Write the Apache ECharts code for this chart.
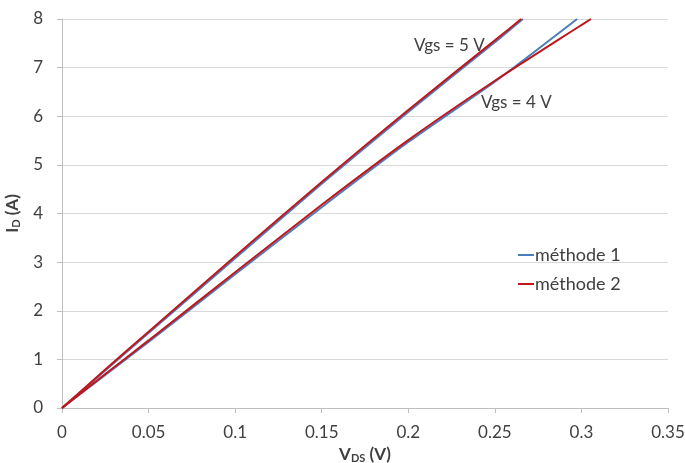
<!DOCTYPE html>
<html><head><meta charset="utf-8">
<script src="https://cdn.jsdelivr.net/npm/echarts@6/dist/echarts.min.js"></script>
<style>html,body{margin:0;padding:0;background:#fff}#c{width:685px;height:463px}</style>
</head><body><div id="c"></div>
<script>
// V_DS (V) sample points and I_D (A) values
const vds5m1 = [0, 0.025, 0.05, 0.1, 0.15, 0.2, 0.25, 0.2662];
const id5m1  = [0, 0.77, 1.54, 3.08, 4.61, 6.09, 7.52, 8];
const vds5m2 = [0, 0.025, 0.05, 0.1, 0.15, 0.2, 0.25, 0.2652];
const id5m2  = [0, 0.79, 1.57, 3.12, 4.65, 6.13, 7.56, 8];
const vds4m1 = [0, 0.025, 0.05, 0.1, 0.15, 0.2, 0.25, 0.2975];
const id4m1  = [0, 0.68, 1.36, 2.75, 4.13, 5.47, 6.71, 8];
const vds4m2 = [0, 0.025, 0.05, 0.1, 0.15, 0.2, 0.25, 0.2975, 0.3055];
const id4m2  = [0, 0.70, 1.39, 2.79, 4.18, 5.51, 6.73, 7.82, 8];
const seriesNames = ['méthode 1', 'méthode 2'];
const xTicks = [0, 0.05, 0.1, 0.15, 0.2, 0.25, 0.3, 0.35];
const yTicks = [0, 1, 2, 3, 4, 5, 6, 7, 8];
const annotations = ['Vgs = 5 V', 'Vgs = 4 V'];

const zip = (a, b) => a.map((v, i) => [v, b[i]]);
const BLUE = '#4A7EBB', RED = '#C0161C';
const FONT = 'Lato, "Open Sans", sans-serif';
const txt = '#404040';

const chart = echarts.init(document.getElementById('c'), null, {renderer: 'canvas'});
const mk = (name, data, color, z) => ({
  name, type: 'line', data, symbol: 'none', z, smooth: 0.2,
  lineStyle: {color, width: 2}, itemStyle: {color}, animation: false
});
const rich = {
  b: {fontFamily: FONT, fontWeight: 'bold', fontSize: 17, color: txt},
  s: {fontFamily: FONT, fontWeight: 'bold', fontSize: 11, color: txt, verticalAlign: 'bottom', padding: [9, 0, 0, 0]}
};
chart.setOption({
  animation: false,
  grid: {left: 62, right: 17, top: 19, bottom: 55, containLabel: false, outerBoundsMode: 'none'},
  legend: {
    data: seriesNames, orient: 'vertical', left: 513, top: 241, itemGap: 11,
    icon: 'rect', itemWidth: 16, itemHeight: 2,
    textStyle: {fontFamily: FONT, fontSize: 18, color: txt, padding: [0, 0, 0, -4]}
  },
  xAxis: {
    type: 'value', min: xTicks[0], max: xTicks[xTicks.length - 1], interval: 0.05,
    name: '{b|V}{s|DS}{b| (V)}', nameLocation: 'middle', nameGap: 35,
    nameTextStyle: {rich},
    axisLine: {show: true, lineStyle: {color: '#BFBFBF'}},
    axisTick: {show: true, length: 5, lineStyle: {color: '#BFBFBF'}},
    splitLine: {show: false},
    axisLabel: {fontFamily: FONT, fontSize: 17, color: txt, margin: 16,
      formatter: v => String(+v.toFixed(2))}
  },
  yAxis: {
    type: 'value', min: yTicks[0], max: yTicks[yTicks.length - 1], interval: 1,
    name: '{b|I}{s|D}{b| (A)}', nameLocation: 'middle', nameGap: 30, nameRotate: 90,
    nameTextStyle: {rich},
    axisLine: {show: true, lineStyle: {color: '#BFBFBF'}},
    axisTick: {show: true, length: 5, lineStyle: {color: '#BFBFBF'}},
    splitLine: {show: true, lineStyle: {color: '#D9D9D9', width: 1}},
    axisLabel: {fontFamily: FONT, fontSize: 17, color: txt, margin: 19}
  },
  graphic: [
    {type: 'text', left: 414, top: 37, style: {text: annotations[0], font: '17px ' + FONT, fill: txt}},
    {type: 'text', left: 481, top: 94, style: {text: annotations[1], font: '17px ' + FONT, fill: txt}}
  ],
  series: [
    mk(seriesNames[0], zip(vds5m1, id5m1), BLUE, 2),
    mk(seriesNames[0], zip(vds4m1, id4m1), BLUE, 2),
    mk(seriesNames[1], zip(vds5m2, id5m2), RED, 3),
    mk(seriesNames[1], zip(vds4m2, id4m2), RED, 3)
  ]
});
</script></body></html>
